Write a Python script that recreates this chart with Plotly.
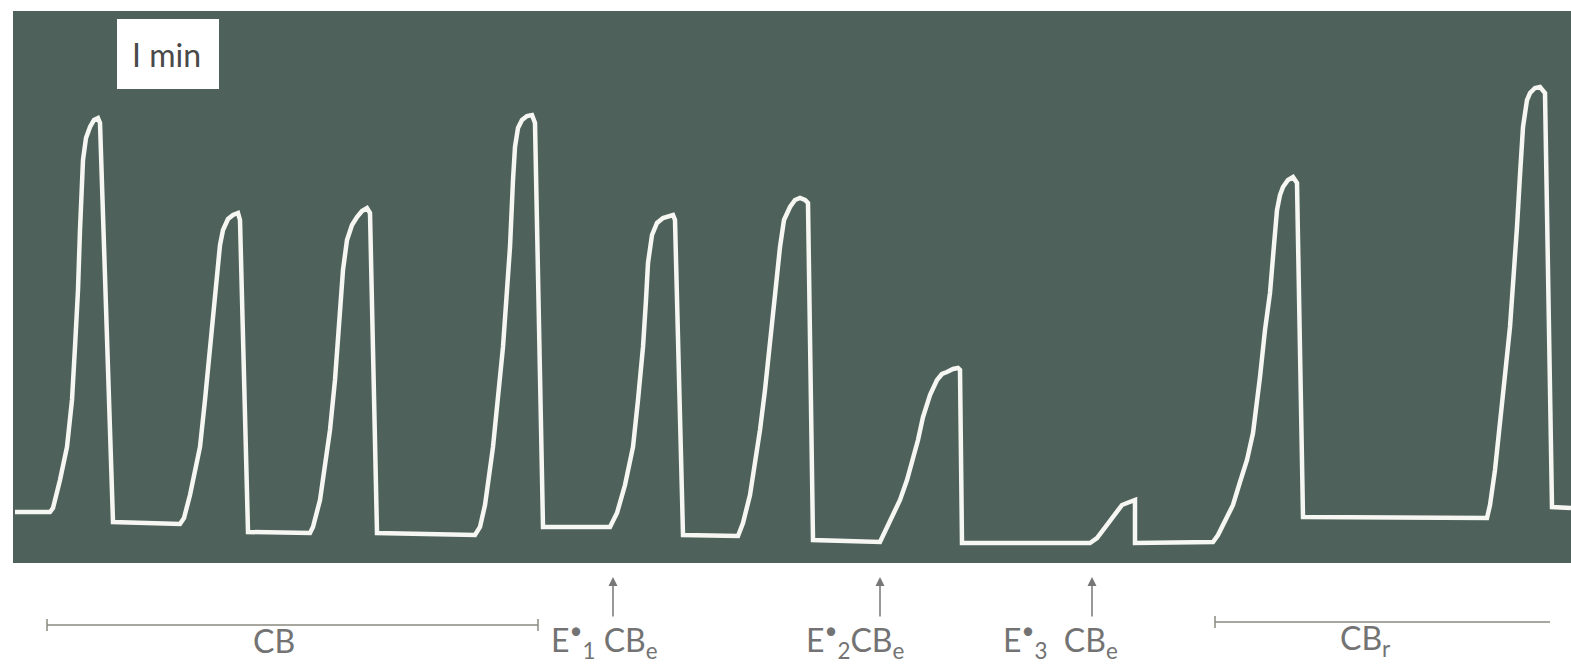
import plotly.graph_objects as go

# Recorded trace (time units along chart, amplitude units read as page rows from top)
time_pts = [15, 50, 53, 60, 67, 72, 75, 78, 80, 83, 86, 90, 94, 98, 100, 113,
            180, 184, 190, 200, 205, 210, 214, 217, 220, 223, 228, 233, 238, 240, 248,
            310, 313, 320, 330, 335, 340, 343, 347, 352, 357, 362, 367, 370, 377,
            475, 480, 485, 493, 498, 503, 507, 510, 513, 515, 518, 522, 527, 532, 535, 543,
            610, 617, 625, 633, 638, 643, 646, 648, 652, 657, 663, 668, 673, 675, 683,
            738, 743, 750, 760, 765, 770, 775, 780, 784, 790, 795, 800, 805, 808, 813,
            880, 890, 900, 907, 913, 918, 923, 930, 937, 942, 947, 953, 958, 960, 962,
            1090, 1097, 1103, 1110, 1117, 1122, 1127, 1131, 1135, 1135,
            1213, 1218, 1225, 1233, 1240, 1247, 1253, 1257, 1260, 1265, 1270, 1274, 1277, 1280, 1283, 1288, 1293, 1297, 1303,
            1487, 1490, 1495, 1500, 1505, 1510, 1514, 1517, 1520, 1523, 1527, 1530, 1535, 1540, 1545, 1552, 1571]
trace_py = [512, 512, 508, 480, 447, 400, 347, 290, 230, 160, 138, 127, 120, 118, 123, 522,
            524, 518, 495, 447, 400, 347, 310, 280, 245, 230, 219, 215, 213, 220, 532,
            533, 527, 500, 430, 380, 313, 270, 240, 225, 217, 211, 208, 213, 533,
            535, 527, 505, 447, 400, 347, 290, 247, 180, 147, 128, 120, 116, 115, 123, 527,
            527, 513, 485, 447, 400, 347, 300, 263, 235, 223, 218, 216, 215, 220, 535,
            536, 523, 495, 430, 390, 347, 295, 247, 220, 207, 200, 198, 200, 203, 540,
            542, 520, 500, 480, 460, 440, 417, 395, 380, 374, 372, 369, 368, 370, 543,
            543, 538, 530, 520, 510, 505, 503, 501, 500, 543,
            542, 535, 520, 505, 482, 460, 433, 405, 377, 330, 293, 245, 210, 195, 187, 180, 177, 183, 517,
            518, 505, 470, 427, 375, 327, 275, 227, 175, 127, 100, 93, 88, 87, 93, 507, 508]

H = 667
amplitude = [H - p for p in trace_py]

# Labels below the record
label_texts = ["CB", "E<sup>•</sup><sub>1</sub> CB<sub>e</sub>", "E<sup>•</sup><sub>2</sub>CB<sub>e</sub>",
               "E<sup>•</sup><sub>3</sub>  CB<sub>e</sub>", "CB<sub>r</sub>"]
label_x = [251, 549, 804, 1001, 1338]
arrow_x = [613, 880, 1092]

fig = go.Figure()
fig.add_trace(go.Scatter(x=time_pts, y=amplitude, mode="lines",
                         line=dict(color="#f6f6f2", width=4.5),
                         hoverinfo="skip", showlegend=False))

shapes = [
    dict(type="rect", xref="x", yref="y", x0=13, x1=1571, y0=H - 563, y1=H - 11,
         fillcolor="#4e615b", line=dict(width=0), layer="below"),
    dict(type="rect", xref="x", yref="y", x0=117, x1=219, y0=H - 89, y1=H - 19,
         fillcolor="#ffffff", line=dict(width=0), layer="below"),
    # CB bracket
    dict(type="line", xref="x", yref="y", x0=47, x1=538, y0=H - 625, y1=H - 625,
         line=dict(color="#8a8a80", width=1.5)),
    dict(type="line", xref="x", yref="y", x0=47, x1=47, y0=H - 619, y1=H - 631,
         line=dict(color="#8a8a80", width=1.5)),
    dict(type="line", xref="x", yref="y", x0=538, x1=538, y0=H - 619, y1=H - 631,
         line=dict(color="#8a8a80", width=1.5)),
    # CBr bracket
    dict(type="line", xref="x", yref="y", x0=1215, x1=1550, y0=H - 622, y1=H - 622,
         line=dict(color="#8a8a80", width=1.5)),
    dict(type="line", xref="x", yref="y", x0=1215, x1=1215, y0=H - 616, y1=H - 628,
         line=dict(color="#8a8a80", width=1.5)),
]

annotations = [
    dict(x=166, y=H - 54, xref="x", yref="y", text="I min", showarrow=False,
         font=dict(family="Lato", size=32, color="#4a4a4a")),
]
for t, x in zip(label_texts, label_x):
    annotations.append(dict(x=x, y=H - 640, xref="x", yref="y", text=t, showarrow=False,
                            xanchor="left", yanchor="middle",
                            font=dict(family="Lato", size=32, color="#737373")))
for x in arrow_x:
    annotations.append(dict(x=x, y=H - 577, ax=x, ay=H - 618, xref="x", yref="y",
                            axref="x", ayref="y", text="", showarrow=True,
                            arrowhead=2, arrowsize=1.2, arrowwidth=1.5, arrowcolor="#777777"))

fig.update_layout(
    width=1571, height=667,
    margin=dict(l=0, r=0, t=0, b=0),
    paper_bgcolor="#ffffff", plot_bgcolor="#ffffff",
    xaxis=dict(range=[0, 1571], visible=False, fixedrange=True),
    yaxis=dict(range=[0, 667], visible=False, fixedrange=True),
    shapes=shapes, annotations=annotations,
)
fig.write_html("out.html")
